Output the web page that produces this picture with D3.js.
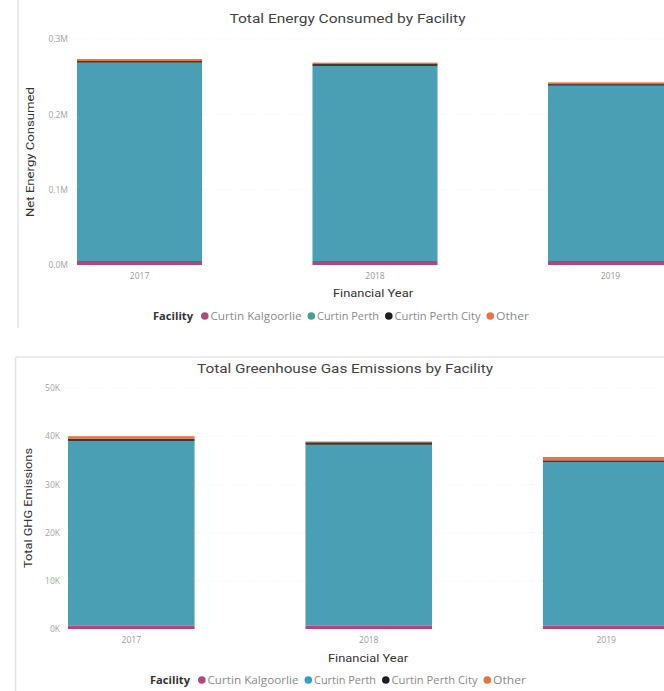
<!DOCTYPE html>
<html>
<head>
<meta charset="utf-8">
<script src="https://cdn.jsdelivr.net/npm/d3@7"></script>
<style>
  html, body { margin: 0; padding: 0; background: #fff; overflow: hidden; }
  svg { display: block; }
</style>
</head>
<body>
<svg id="chart" width="664" height="691"></svg>
<script>
// ---- data ----
const years = ["2017", "2018", "2019"];
const facilities = ["Curtin Kalgoorlie", "Curtin Perth", "Curtin Perth City", "Other"];

// Net energy consumed (GJ)
const energyKalgoorlie = [5300, 5300, 5300];
const energyPerth      = [263200, 258800, 232600];
const energyPerthCity  = [2300, 2700, 2300];
const energyOther      = [2700, 1800, 2300];

// Total GHG emissions (t CO2-e)
const ghgKalgoorlie = [750, 750, 750];
const ghgPerth      = [38200, 37450, 33850];
const ghgPerthCity  = [550, 550, 400];
const ghgOther      = [500, 150, 700];

const energyTicks = [0, 100000, 200000, 300000];
const energyTickLabels = ["0.0M", "0.1M", "0.2M", "0.3M"];
const ghgTicks = [0, 10000, 20000, 30000, 40000, 50000];
const ghgTickLabels = ["0K", "10K", "20K", "30K", "40K", "50K"];

const barColors = ["#a9497c", "#4a9fb4", "#3b3b3b", "#e8743f"];
const legendTextWidths = [91, 62, 86, 33];

// ---- drawing ----
const svg = d3.select("#chart");
svg.append("rect").attr("width", 664).attr("height", 691).attr("fill", "#fff");

function buildRows(series) {
  return years.map((y, i) => {
    const row = { year: y };
    facilities.forEach((f, k) => { row[f] = series[k][i]; });
    return row;
  });
}

function drawChart(cfg) {
  const g = svg.append("g");

  // panel borders
  g.append("line").attr("x1", cfg.borderX).attr("x2", cfg.borderX)
    .attr("y1", cfg.borderTop).attr("y2", cfg.borderBottom)
    .attr("stroke", "#e3e3e3").attr("stroke-width", 1.5);
  if (cfg.topBorder) {
    g.append("line").attr("x1", cfg.borderX).attr("x2", 664)
      .attr("y1", cfg.borderTop).attr("y2", cfg.borderTop)
      .attr("stroke", "#e6e6e6").attr("stroke-width", 1.5);
  }

  const y = d3.scaleLinear().domain(cfg.yDomain).range(cfg.yRange);
  const x = d3.scaleBand().domain(years).range(cfg.xRange)
    .paddingInner(cfg.paddingInner).paddingOuter(0);

  // gridlines (very faint)
  g.append("g").selectAll("line").data(cfg.ticks.slice(1)).join("line")
    .attr("x1", cfg.gridX0).attr("x2", 664)
    .attr("y1", d => y(d)).attr("y2", d => y(d))
    .attr("stroke", "#f0f0f0").attr("stroke-dasharray", "1,2");

  // y axis tick labels
  const yAxis = d3.axisLeft(y).tickValues(cfg.ticks)
    .tickFormat((d, i) => cfg.tickLabels[i]).tickSize(0).tickPadding(0);
  g.append("g").attr("transform", `translate(${cfg.yLabelX},0)`).call(yAxis)
    .call(s => s.select(".domain").remove())
    .call(s => s.selectAll("text").attr("fill", "#a3a3a3")
      .attr("font-family", "Open Sans, sans-serif").attr("font-size", 8.5));

  // stacked bars
  const rows = buildRows(cfg.series);
  const stacked = d3.stack().keys(facilities)(rows);
  g.append("g").selectAll("g").data(stacked).join("g")
    .attr("fill", (d, i) => barColors[i])
    .selectAll("rect").data(d => d).join("rect")
    .attr("x", d => x(d.data.year))
    .attr("width", x.bandwidth())
    .attr("y", d => y(d[1]))
    .attr("height", d => y(d[0]) - y(d[1]));

  // x axis labels
  const xAxis = d3.axisBottom(x).tickSize(0).tickPadding(0);
  g.append("g").attr("transform", `translate(0,${cfg.xLabelY})`).call(xAxis)
    .call(s => s.select(".domain").remove())
    .call(s => s.selectAll("text").attr("fill", "#999")
      .attr("font-family", "Open Sans, sans-serif").attr("font-size", 8.5));

  // title
  g.append("text").attr("x", cfg.titleX).attr("y", cfg.titleY)
    .attr("text-anchor", "middle").attr("fill", "#444")
    .attr("font-family", "Roboto, sans-serif").attr("font-size", 13)
    .attr("font-weight", 400)
    .attr("textLength", cfg.titleLen).attr("lengthAdjust", "spacingAndGlyphs")
    .text(cfg.title);

  // axis titles
  g.append("text").attr("x", cfg.xTitleX).attr("y", cfg.xTitleY)
    .attr("text-anchor", "middle").attr("fill", "#333")
    .attr("font-family", "Roboto, sans-serif").attr("font-size", 11.5)
    .attr("textLength", cfg.xTitleLen).attr("lengthAdjust", "spacingAndGlyphs")
    .text("Financial Year");

  g.append("text")
    .attr("transform", `translate(${cfg.yTitleX},${cfg.yTitleY}) rotate(-90)`)
    .attr("text-anchor", "middle").attr("fill", "#333")
    .attr("font-family", "Roboto, sans-serif").attr("font-size", 11.5)
    .attr("textLength", cfg.yTitleLen).attr("lengthAdjust", "spacingAndGlyphs")
    .text(cfg.yTitle);

  // legend
  const lg = g.append("g");
  let cx = cfg.legendX;
  lg.append("text").attr("x", cx).attr("y", cfg.legendY + 3.5)
    .attr("fill", "#333").attr("font-family", "Open Sans, sans-serif")
    .attr("font-size", 10.5).attr("font-weight", 700)
    .attr("textLength", 40).attr("lengthAdjust", "spacingAndGlyphs")
    .text("Facility");
  cx += 40 + 8;
  facilities.forEach((f, i) => {
    lg.append("circle").attr("cx", cx + 3.8).attr("cy", cfg.legendY)
      .attr("r", 3.8).attr("fill", cfg.legendColors[i]);
    lg.append("text").attr("x", cx + 9.5).attr("y", cfg.legendY + 3.5)
      .attr("fill", "#8a8a8a").attr("font-family", "Open Sans, sans-serif")
      .attr("font-size", 10.5)
      .attr("textLength", legendTextWidths[i]).attr("lengthAdjust", "spacingAndGlyphs")
      .text(f);
    cx += 9.5 + legendTextWidths[i] + 6;
  });
}

drawChart({
  title: "Total Energy Consumed by Facility",
  titleX: 347.5, titleY: 23, titleLen: 236,
  yTitle: "Net Energy Consumed", yTitleX: 34, yTitleY: 152, yTitleLen: 130,
  xTitleX: 373, xTitleY: 297, xTitleLen: 80,
  series: [energyKalgoorlie, energyPerth, energyPerthCity, energyOther],
  yDomain: [0, 300000], yRange: [265, 39],
  ticks: energyTicks, tickLabels: energyTickLabels,
  yLabelX: 68, gridX0: 72,
  xRange: [77, 673], paddingInner: 0.469,
  xLabelY: 273,
  borderX: 18, borderTop: 0, borderBottom: 328, topBorder: false,
  legendX: 153, legendY: 316,
  legendColors: ["#b04a7c", "#3fa592", "#1f1f1f", "#e8743f"]
});

drawChart({
  title: "Total Greenhouse Gas Emissions by Facility",
  titleX: 345, titleY: 372.5, titleLen: 296,
  yTitle: "Total GHG Emissions", yTitleX: 32, yTitleY: 508, yTitleLen: 120,
  xTitleX: 368, xTitleY: 662, xTitleLen: 80,
  series: [ghgKalgoorlie, ghgPerth, ghgPerthCity, ghgOther],
  yDomain: [0, 50000], yRange: [629, 388],
  ticks: ghgTicks, tickLabels: ghgTickLabels,
  yLabelX: 60, gridX0: 64,
  xRange: [68, 669.5], paddingInner: 0.467,
  xLabelY: 637,
  borderX: 15.5, borderTop: 357, borderBottom: 691, topBorder: true,
  legendX: 150, legendY: 680,
  legendColors: ["#b04a7c", "#3a9cc6", "#1f1f1f", "#e8743f"]
});
</script>
</body>
</html>
